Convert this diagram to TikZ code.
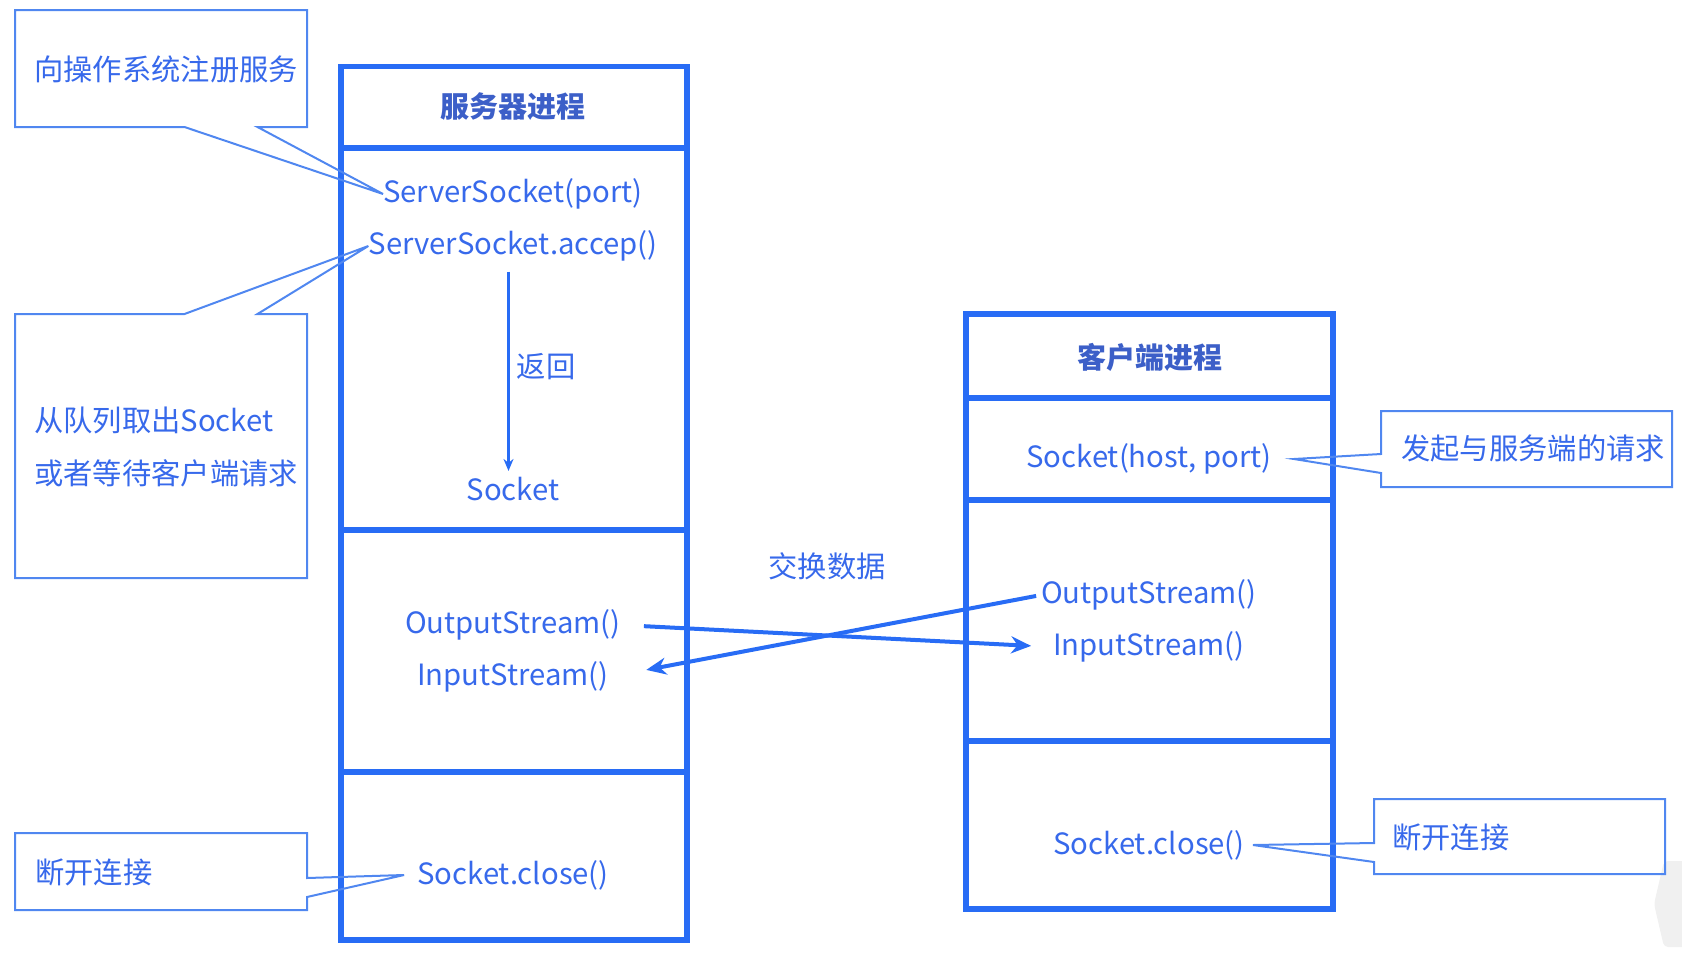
\documentclass[tikz,border=0pt]{standalone}
\usepackage{fontspec}
\newfontfamily\cjk{Noto Sans CJK SC}
\usetikzlibrary{arrows.meta}
\definecolor{bl}{RGB}{40,108,245}
\definecolor{tx}{RGB}{55,105,235}
\definecolor{hd}{RGB}{60,95,200}
\definecolor{cl}{RGB}{80,135,240}
\begin{document}
\begin{tikzpicture}[x=1pt,y=-1pt,
  proc/.style={draw=bl,line width=5.5pt},
  lbl/.style={font=\cjk\fontsize{29.3}{33}\selectfont,text=tx,inner sep=0pt},
  head/.style={font=\cjk\bfseries\fontsize{29}{33}\selectfont,text=hd,inner sep=0pt},
  callout/.style={draw=cl,line width=2pt,line join=miter},
  flow/.style={draw=bl,line width=4pt,-{Stealth[length=20pt,width=17pt]}},
  ret/.style={draw=bl,line width=2.5pt,-{Stealth[length=12pt,width=10pt]}},
  ]
\useasboundingbox (0,0) rectangle (1682,954);
\fill[gray!12,rounded corners=4pt] (1664,861) -- (1690,861) -- (1690,947) -- (1664,947) -- (1654,904) -- cycle;

% server process
\node[head] (sh) at (513,107) {服务器进程};
\node[lbl] (ss1) at (513,194) {ServerSocket(port)};
\node[lbl] (ss2) at (513,246) {ServerSocket.accep()};
\node[lbl] (sk) at (513,489) {Socket};
\node[lbl] (rt) at (546,367) {返回};
\node[lbl] (so) at (513,625) {OutputStream()};
\node[lbl] (si) at (513,677) {InputStream()};
\node[lbl] (sc) at (513,875) {Socket.close()};
\draw[proc] (341,66.5) rectangle (687,940);
\draw[proc] (341,148) -- (687,148);
\draw[proc] (341,530) -- (687,530);
\draw[proc] (341,772) -- (687,772);
\draw[ret,shorten <=10pt,shorten >=6pt] ([xshift=-4.5pt]ss2.south) -- ([xshift=-4.5pt]sk.north);

% client process
\node[head] (ch) at (1150,357) {客户端进程};
\node[lbl] (cs) at (1149,459) {Socket(host, port)};
\node[lbl] (co) at (1149,595) {OutputStream()};
\node[lbl] (ci) at (1149,647) {InputStream()};
\node[lbl] (cc) at (1149,845) {Socket.close()};
\draw[proc] (966,314) rectangle (1333,909);
\draw[proc] (966,398) -- (1333,398);
\draw[proc] (966,500) -- (1333,500);
\draw[proc] (966,741) -- (1333,741);

% data exchange
\node[lbl] (ex) at (827,566) {交换数据};
\draw[flow,shorten <=23pt,shorten >=22pt] (so.east) -- (ci.west);
\draw[flow,shorten <=5pt,shorten >=38pt] (co.west) -- (si.east);

% callouts
\node[lbl,anchor=west] (n1) at (34,69) {向操作系统注册服务};
\draw[callout] (15,10) -- (307,10) -- (307,127) -- (257.5,127) -- (ss1.west) -- (184.5,127) -- (15,127) -- cycle;

\node[lbl,anchor=west,align=left,font=\cjk\fontsize{29.3}{53}\selectfont] (n2) at (34,447) {从队列取出Socket\\或者等待客户端请求};
\draw[callout] (15,314) -- (184.5,314) -- (ss2.west) -- (257.5,314) -- (307,314) -- (307,578) -- (15,578) -- cycle;

\node[lbl,anchor=west] (n3) at (35,872) {断开连接};
\coordinate (t3) at ([xshift=-13pt]sc.west);
\draw[callout] (15,833) -- (307,833) -- (307,878) -- (t3) -- (307,897) -- (307,910) -- (15,910) -- cycle;

\node[lbl,anchor=west] (n4) at (1401,448) {发起与服务端的请求};
\coordinate (t4) at ([xshift=22pt]cs.east);
\draw[callout] (1381,411) -- (1672,411) -- (1672,487) -- (1381,487) -- (1381,473) -- (t4) -- (1381,454) -- cycle;

\node[lbl,anchor=west] (n5) at (1392,837) {断开连接};
\coordinate (t5) at ([xshift=8pt]cc.east);
\draw[callout] (1374,799) -- (1665,799) -- (1665,874) -- (1374,874) -- (1374,862) -- (t5) -- (1374,843) -- cycle;
\end{tikzpicture}
\end{document}
